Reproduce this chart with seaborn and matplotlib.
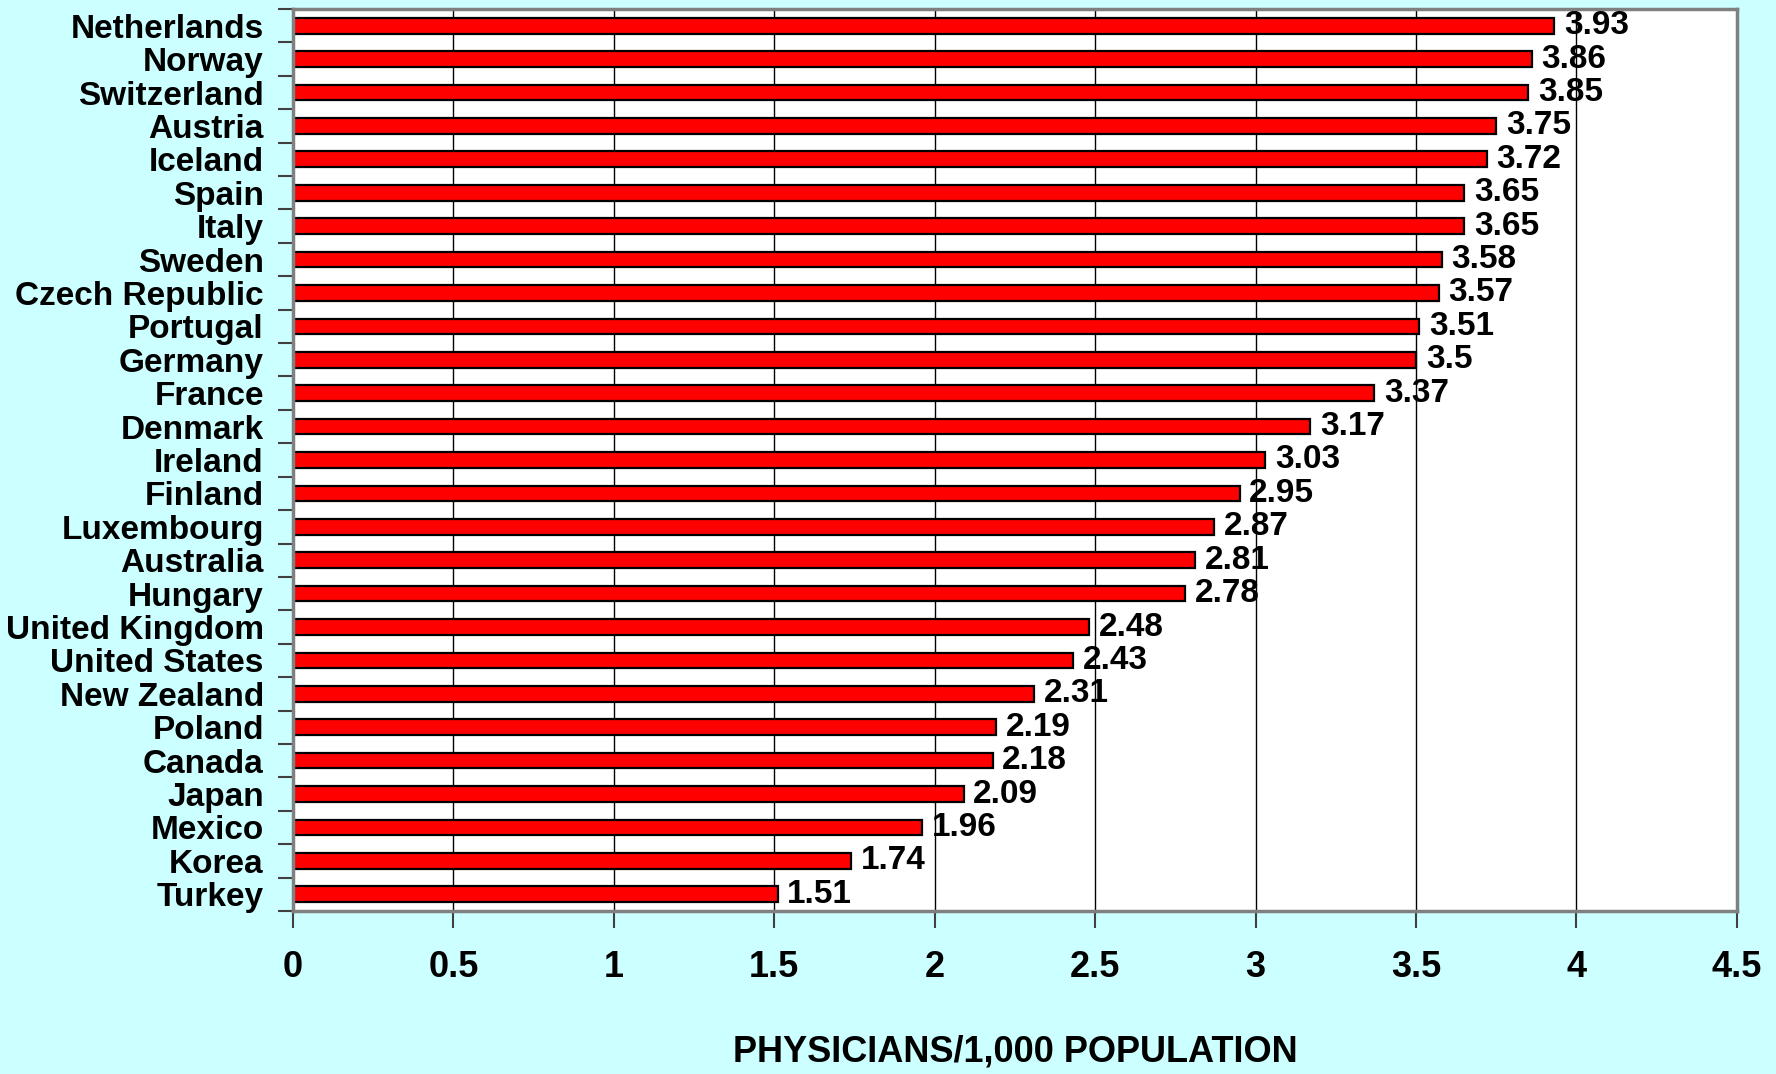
import matplotlib
matplotlib.use("Agg")
import matplotlib.pyplot as plt
import seaborn as sns
import pandas as pd
from matplotlib.ticker import FixedLocator

# Data
countries = ["Netherlands", "Norway", "Switzerland", "Austria", "Iceland", "Spain", "Italy",
             "Sweden", "Czech Republic", "Portugal", "Germany", "France", "Denmark", "Ireland",
             "Finland", "Luxembourg", "Australia", "Hungary", "United Kingdom", "United States",
             "New Zealand", "Poland", "Canada", "Japan", "Mexico", "Korea", "Turkey"]
physicians = [3.93, 3.86, 3.85, 3.75, 3.72, 3.65, 3.65, 3.58, 3.57, 3.51, 3.5, 3.37, 3.17, 3.03,
              2.95, 2.87, 2.81, 2.78, 2.48, 2.43, 2.31, 2.19, 2.18, 2.09, 1.96, 1.74, 1.51]
x_ticks = [0, 0.5, 1, 1.5, 2, 2.5, 3, 3.5, 4, 4.5]

df = pd.DataFrame({"country": countries, "value": physicians})

sns.set_style("white")
plt.rcParams["font.family"] = ["Liberation Sans", "DejaVu Sans"]
plt.rcParams["font.weight"] = "bold"
plt.rcParams["text.color"] = "black"
plt.rcParams["xtick.color"] = "black"
plt.rcParams["ytick.color"] = "black"
plt.rcParams["axes.labelcolor"] = "black"

bg = "#CCFFFF"
fig = plt.figure(figsize=(17.76, 10.74), dpi=100, facecolor=bg)
ax = fig.add_axes([0.165, 0.1518, 0.813, 0.8398])
ax.set_facecolor("white")

sns.barplot(data=df, x="value", y="country", order=countries, orient="h", ax=ax,
            color="#FF0000", saturation=1, width=0.47, edgecolor="black", linewidth=1.6)

# Value labels
for cont in ax.containers:
    ax.bar_label(cont, labels=[f"{v:g}" for v in physicians], padding=7,
                 fontsize=24, fontweight="bold", color="black")

# Axes formatting
ax.set_xlim(0, 4.5)
ax.set_ylim(len(countries) - 0.5, -0.5)
ax.set_xticks(x_ticks)
ax.set_xticklabels([f"{t:g}" for t in x_ticks])
ax.grid(axis="x", color="black", linewidth=1)
ax.grid(axis="y", visible=False)
ax.set_axisbelow(True)

ax.yaxis.set_minor_locator(FixedLocator([i + 0.5 for i in range(-1, len(countries))]))
ax.tick_params(axis="y", which="major", length=0, pad=21, labelsize=24, labelcolor="black")
ax.tick_params(axis="y", which="minor", length=11, width=1.5, color="#404040", left=True)
ax.tick_params(axis="x", length=12, width=1.5, color="#404040", bottom=True, pad=16,
               labelsize=26, labelcolor="black")
for lab in ax.get_yticklabels() + ax.get_xticklabels():
    lab.set_fontweight("bold")

for s in ax.spines.values():
    s.set_color("#808080")
    s.set_linewidth(2.5)

ax.set_ylabel("")
ax.set_xlabel("PHYSICIANS/1,000 POPULATION", fontsize=26, fontweight="bold", labelpad=36,
              color="black")

plt.savefig("out.png", facecolor=bg)
